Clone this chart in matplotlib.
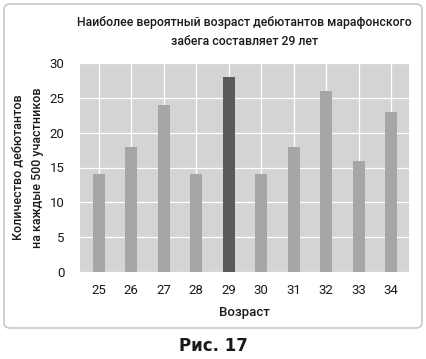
import matplotlib.pyplot as plt
from matplotlib.patches import FancyBboxPatch

ages = [25, 26, 27, 28, 29, 30, 31, 32, 33, 34]
counts = [14, 18, 24, 14, 28, 14, 18, 26, 16, 23]
highlight = 29

plt.rcParams["font.family"] = ["Roboto", "DejaVu Sans"]

fig = plt.figure(figsize=(4.26, 3.59), dpi=100)

# outer rounded frame
frame = FancyBboxPatch((4 / 426, 1 - 328 / 359), 418 / 426, 324 / 359,
                       boxstyle="round,pad=0,rounding_size=0.015",
                       transform=fig.transFigure, facecolor="white",
                       edgecolor="#c8c8c8", linewidth=1.2, zorder=-5)
fig.patches.append(frame)

ax = fig.add_axes([80 / 426, 1 - 272 / 359, 329 / 426, 209 / 359])
ax.set_zorder(2)
ax.set_facecolor("#d4d4d4")
colors = ["#595959" if a == highlight else "#a6a6a6" for a in ages]
ax.bar(ages, counts, width=0.37, color=colors, zorder=3)

ax.set_xlim(24.42, 34.55)
ax.set_ylim(0, 30)
ax.set_xticks(ages)
ax.set_yticks(range(0, 31, 5))
ax.grid(True, color="white", linewidth=0.9, zorder=1)
for s in ax.spines.values():
    s.set_visible(False)
ax.tick_params(length=0, labelsize=9.5, colors="#1a1a1a", pad=9)
ax.tick_params(axis="y", pad=11)

ax.set_xlabel("Возраст", fontsize=9.5, color="#1a1a1a", labelpad=6,
              fontweight="medium")
ax.set_ylabel("Количество дебютантов\nна каждые 500 участников", fontsize=9,
              color="#1a1a1a", labelpad=4, linespacing=1.75, fontweight="medium")
ax.set_title("Наиболее вероятный возраст дебютантов марафонского\nзабега составляет 29 лет",
             fontsize=8.8, color="#1a1a1a", pad=13, linespacing=1.6,
             fontweight="medium")

fig.text(0.5, 1 - 346 / 359, "Рис. 17", ha="center", va="center",
         fontsize=12, fontweight="bold", family="DejaVu Sans", color="#1a1a1a")

fig.savefig("out.png", dpi=100)
